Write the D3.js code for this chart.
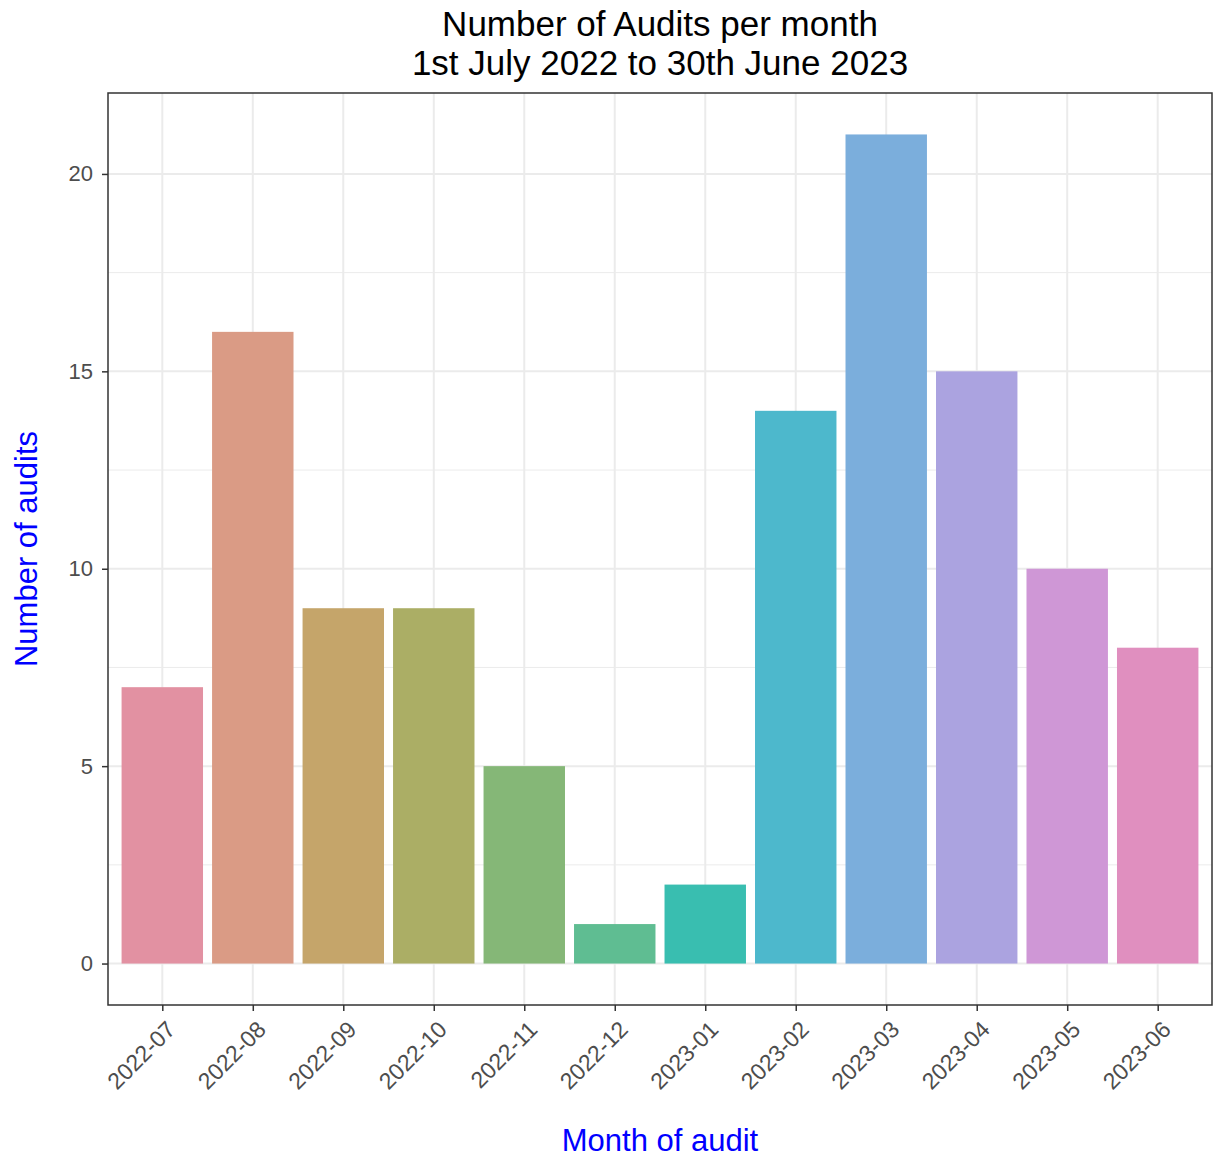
<!DOCTYPE html>
<meta charset="utf-8">
<body style="margin:0;background:#fff">
<div id="div-svg"></div>
<style>
  text { font-family: "Liberation Sans", Arial, sans-serif; }
</style>

<script src="https://cdn.jsdelivr.net/npm/d3@7"></script>
<script>
    var months = ["2022-07","2022-08","2022-09","2022-10","2022-11","2022-12",
                  "2023-01","2023-02","2023-03","2023-04","2023-05","2023-06"];
    var audits = [7, 16, 9, 9, 5, 1, 2, 14, 21, 15, 10, 8];
    var barColors = ["#E291A2","#DA9B85","#C5A56A","#ABAE65","#85B777","#5FBD92",
                     "#39BEB0","#4DB8CC","#7BAEDC","#ABA3E0","#CF97D6","#E08FBF"];
    var yTicks = [0, 5, 10, 15, 20];
    var yMinor = [2.5, 7.5, 12.5, 17.5];

    var width = 1213;
    var height = 1159;
    var pLeft = 108, pRight = 1212, pTop = 93, pBottom = 1005;

    var svg = d3.select("#div-svg").append("svg")
        .attr("width", width)
        .attr("height", height);

    // ggplot style 5% expansion on y
    var yMax = d3.max(audits);
    var y = d3.scaleLinear()
        .domain([-yMax * 0.05, yMax * 1.05])
        .range([pBottom, pTop]);

    // discrete axis with 0.6 expansion each side
    var step = (pRight - pLeft) / (months.length - 1 + 1.2);
    var x = d3.scalePoint()
        .domain(months)
        .range([pLeft + 0.6 * step, pRight - 0.6 * step]);
    var barW = step * 0.9;

    // grid
    var grid = svg.append("g");
    grid.selectAll(".minor").data(yMinor).enter().append("line")
        .attr("x1", pLeft).attr("x2", pRight)
        .attr("y1", function(d){return y(d);}).attr("y2", function(d){return y(d);})
        .attr("stroke", "#EBEBEB").attr("stroke-width", 1);
    grid.selectAll(".major").data(yTicks).enter().append("line")
        .attr("x1", pLeft).attr("x2", pRight)
        .attr("y1", function(d){return y(d);}).attr("y2", function(d){return y(d);})
        .attr("stroke", "#EBEBEB").attr("stroke-width", 2);
    grid.selectAll(".vx").data(months).enter().append("line")
        .attr("y1", pTop).attr("y2", pBottom)
        .attr("x1", function(d){return x(d);}).attr("x2", function(d){return x(d);})
        .attr("stroke", "#EBEBEB").attr("stroke-width", 2);

    // bars
    svg.selectAll("rect.bar")
      .data(audits)
      .enter()
      .append("rect")
      .attr("class", "bar")
      .attr("x", function(d,i){return x(months[i]) - barW/2;})
      .attr("width", barW)
      .attr("y", function(d){return y(d);})
      .attr("height", function(d){return y(0) - y(d);})
      .style("fill", function(d,i){return barColors[i];});

    // panel border
    svg.append("rect")
      .attr("x", pLeft).attr("y", pTop)
      .attr("width", pRight - pLeft).attr("height", pBottom - pTop)
      .attr("fill", "none").attr("stroke", "#333333").attr("stroke-width", 1.5);

    // y axis
    var yAxis = svg.append("g")
      .attr("transform", "translate(" + pLeft + ",0)")
      .call(d3.axisLeft(y).tickValues(yTicks).tickSize(6).tickPadding(9));
    yAxis.select(".domain").remove();
    yAxis.selectAll("line").attr("stroke", "#333333").attr("stroke-width", 1.5);
    yAxis.selectAll("text").attr("fill", "#4D4D4D").style("font-size", "22px")
      .style("font-family", "'Liberation Sans', Arial, sans-serif");

    // x axis
    var xAxis = svg.append("g")
      .attr("transform", "translate(0," + pBottom + ")")
      .call(d3.axisBottom(x).tickSize(6).tickPadding(0));
    xAxis.select(".domain").remove();
    xAxis.selectAll("line").attr("stroke", "#333333").attr("stroke-width", 1.5);
    xAxis.selectAll("text")
      .attr("fill", "#4D4D4D").style("font-size", "23px")
      .style("font-family", "'Liberation Sans', Arial, sans-serif")
      .attr("text-anchor", "end")
      .attr("dy", null)
      .attr("y", 0)
      .attr("transform", "translate(14,26) rotate(-45)");

    // titles
    var title = svg.append("text")
      .attr("text-anchor", "middle")
      .attr("fill", "#000")
      .style("font-size", "35px");
    title.append("tspan").attr("x", (pLeft + pRight)/2).attr("y", 36).text("Number of Audits per month");
    title.append("tspan").attr("x", (pLeft + pRight)/2).attr("y", 75).text("1st July 2022 to 30th June 2023");

    svg.append("text")
      .attr("x", (pLeft + pRight)/2).attr("y", 1151)
      .attr("text-anchor", "middle")
      .attr("fill", "#0000FF")
      .style("font-size", "31px")
      .text("Month of audit");

    svg.append("text")
      .attr("transform", "translate(37," + ((pTop + pBottom)/2) + ") rotate(-90)")
      .attr("text-anchor", "middle")
      .attr("fill", "#0000FF")
      .style("font-size", "31px")
      .text("Number of audits");
</script>
</body>
